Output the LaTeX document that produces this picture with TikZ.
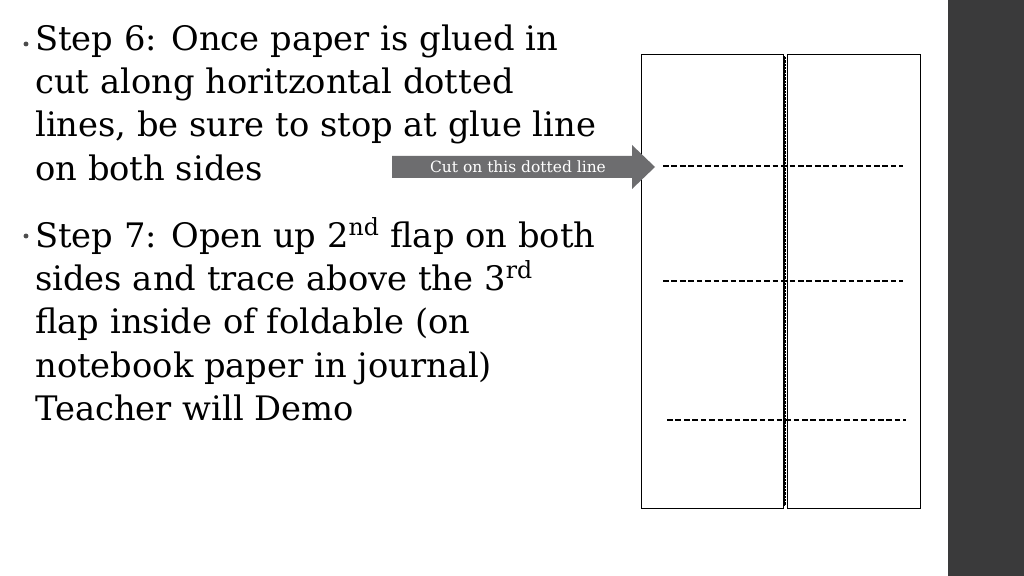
\documentclass[tikz,border=0pt]{standalone}
\usepackage{fontspec}
\setmainfont{DejaVu Serif}
\usetikzlibrary{positioning}
\definecolor{sidebar}{HTML}{3A3A3B}
\definecolor{arrowgray}{HTML}{6D6D6F}
\begin{document}
\begin{tikzpicture}[x=0.025cm, y=-0.025cm,
        body/.style = {anchor=north west, align=left, inner sep=0pt, font=\fontsize{24}{30.6}\selectfont},
        bullet/.style = {circle, fill=black!70, inner sep=0pt, minimum size=3.5pt},
        flap/.style = {draw, black, thin, anchor=north west, inner sep=0pt},
        cutline/.style = {draw, black, dash pattern=on 4pt off 2pt, thick},
        label/.style = {text=white, inner sep=0pt, font=\fontsize{11}{12}\selectfont}
    ]
        \useasboundingbox (0,0) rectangle (1024,576);
        \fill[white] (0,0) rectangle (1024,576);
        \fill[sidebar] (948,0) rectangle (1024,576);
        % text
        \node[bullet] (b1) at (26,44) {};
        \node[body] (step6) at (35,25) {Step 6: Once paper is glued in\\cut along horitzontal dotted\\lines, be sure to stop at glue line\\on both sides};
        \node[bullet] (b2) at (26,236) {};
        \node[body] (step7) at (35,217) {Step 7: Open up 2\textsuperscript{nd} flap on both\\sides and trace above the 3\textsuperscript{rd}\\flap inside of foldable (on\\notebook paper in journal)\\Teacher will Demo};
        % foldable
        \node[flap, minimum width=142*0.025cm, minimum height=454*0.025cm] (left) at (641,54) {};
        \node[flap, minimum width=133*0.025cm, minimum height=454*0.025cm] (right) at (787,54) {};
        \coordinate (gtop) at (785,56);
        \coordinate (gbot) at (785,506);
        \draw[black, line width=2pt] (gtop) -- (gbot);
        \draw[white, dotted, thin] (gtop) -- (gbot);
        \foreach \y/\xa/\xb in {166/663/903, 281/663/903, 420/667/906} {
            \coordinate (ca) at (\xa,\y);
            \coordinate (cb) at (\xb,\y);
            \draw[cutline] (ca) -- (cb);
        }
        % arrow
        \fill[arrowgray] (392,156) -- (632,156) -- (632,145) -- (655,167) -- (632,189) -- (632,178) -- (392,178) -- cycle;
        \node[label] (cut) at (518,167) {Cut on this dotted line};
\end{tikzpicture}
\end{document}
